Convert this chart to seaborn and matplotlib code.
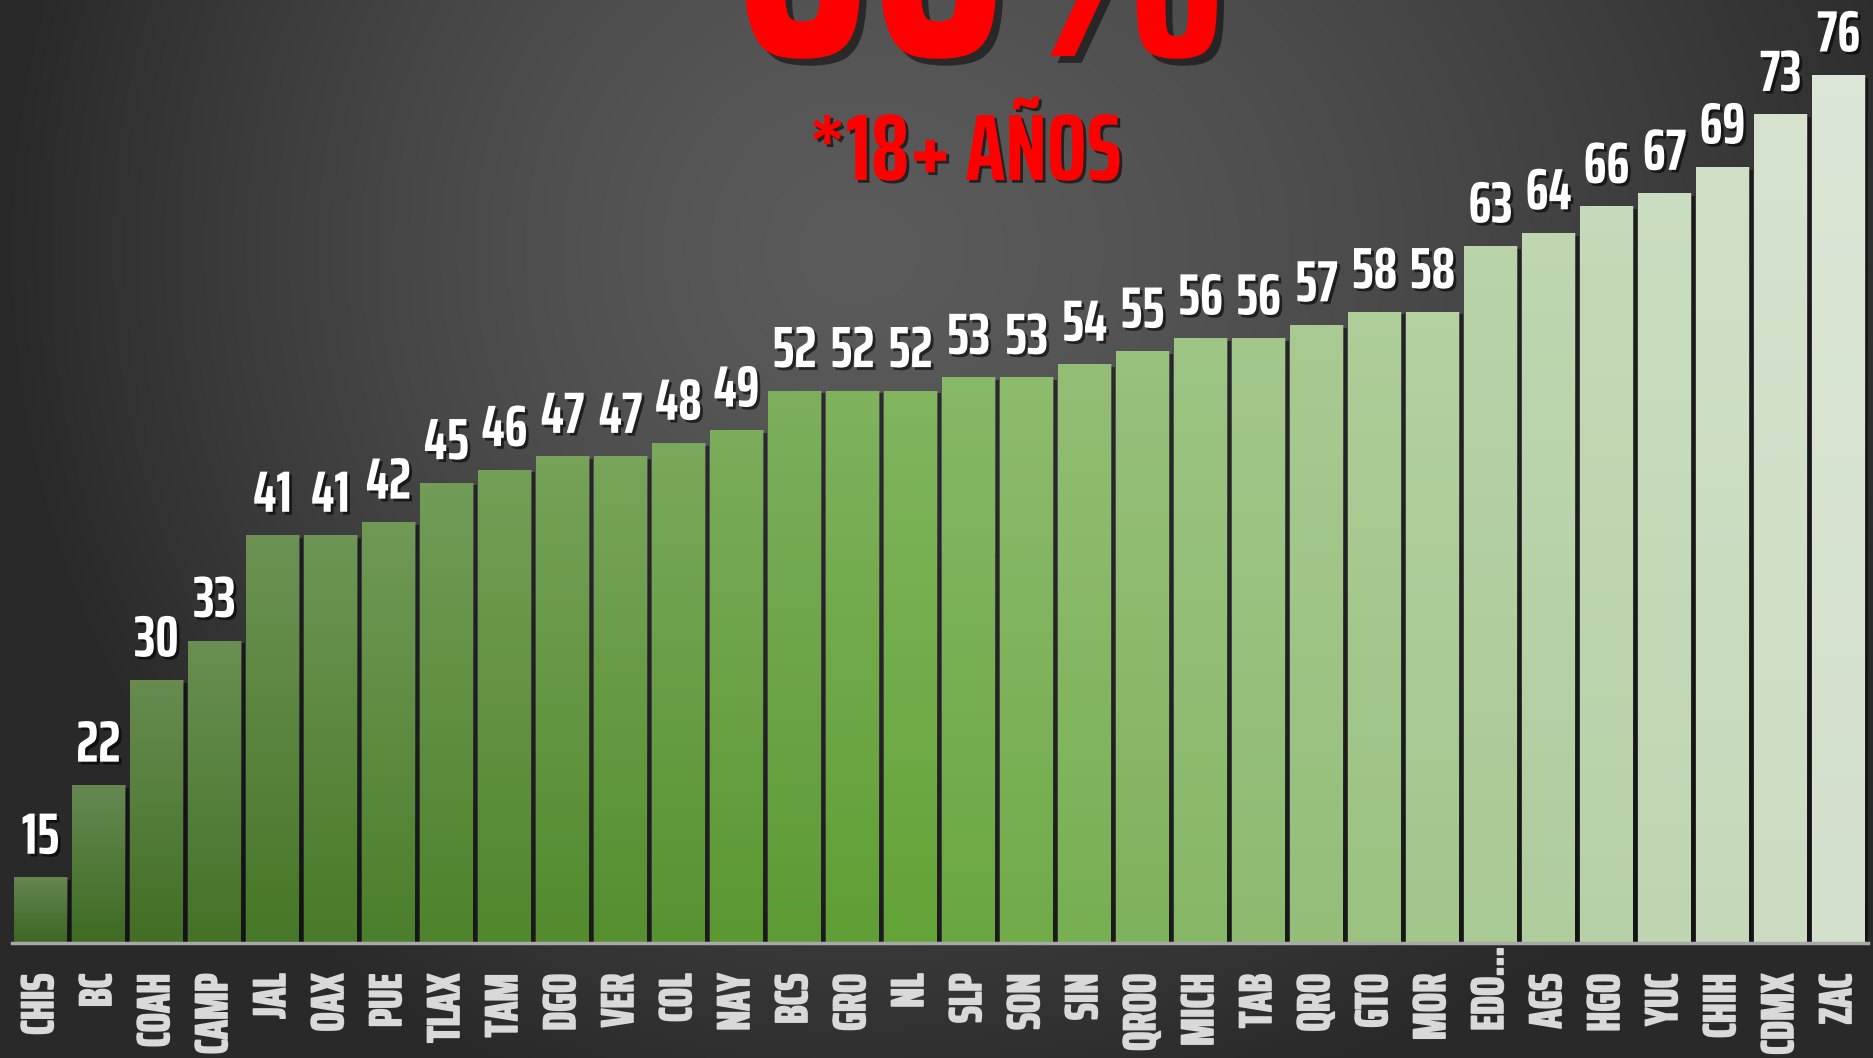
import numpy as np
import matplotlib
matplotlib.use("Agg")
import matplotlib.pyplot as plt
import matplotlib.patheffects as pe
import matplotlib.transforms as mtransforms
from matplotlib import font_manager
from matplotlib.colors import LinearSegmentedColormap
import seaborn as sns

states = ["CHIS", "BC", "COAH", "CAMP", "JAL", "OAX", "PUE", "TLAX", "TAM", "DGO",
          "VER", "COL", "NAY", "BCS", "GRO", "NL", "SLP", "SON", "SIN", "QROO",
          "MICH", "TAB", "QRO", "GTO", "MOR", "EDO…", "AGS", "HGO", "YUC", "CHIH",
          "CDMX", "ZAC"]
values = [15, 22, 30, 33, 41, 41, 42, 45, 46, 47,
          47, 48, 49, 52, 52, 52, 53, 53, 54, 55,
          56, 56, 57, 58, 58, 63, 64, 66, 67, 69,
          73, 76]
headline = "66%"
subtitle = "*18+ AÑOS"

sns.set_theme(style="white")

# condensed face similar to the poster lettering, if one is around
installed = {f.name for f in font_manager.fontManager.ttflist}
candidates = ["Saira ExtraCondensed", "Saira Extra Condensed", "Saira Condensed",
              "Oswald", "Teko", "Bebas Neue", "Antonio", "Fjalla One",
              "Liberation Sans Narrow"]
narrow = next((c for c in candidates if c in installed), "DejaVu Sans")
fams = [narrow, "DejaVu Sans"]
scale = 1.0 if narrow != "DejaVu Sans" else 0.6
plt.rcParams["font.family"] = fams

W, H = 1874, 1058
fig = plt.figure(figsize=(W / 100, H / 100), dpi=100)

# radial gray background, lit a bit left of centre
bg = fig.add_axes([0, 0, 1, 1], zorder=0)
yy, xx = np.mgrid[0:H, 0:W]
rx = np.where(xx < 850, 850.0, 1150.0)
d = np.sqrt(((xx - 850) / rx) ** 2 + ((yy - 250) / 900.0) ** 2)
shade = (0x5b - (0x5b - 0x29) * np.clip(d, 0, 1) ** 1.4) / 255.0
bg.imshow(np.dstack([shade] * 3), extent=(0, 1, 0, 1), aspect="auto")
bg.axis("off")

ax = fig.add_axes([11.5 / W, (H - 943) / H, 1856 / W, 943 / H], zorder=1)
ax.patch.set_alpha(0)

cmap = LinearSegmentedColormap.from_list(
    "greens", [(0, "#3d6723"), (0.48, "#62a336"), (1, "#d3e0cc")])
palette = [cmap(i / (len(states) - 1)) for i in range(len(states))]

sns.barplot(x=states, y=values, hue=states, palette=palette, legend=False,
            width=0.92, linewidth=0, saturation=1, ax=ax)

ymin, ymax = 10, 81.7
shadow = [pe.SimplePatchShadow(offset=(3, -2), shadow_rgbFace="black", alpha=0.5), pe.Normal()]
for bar in ax.patches:
    bar.set_path_effects(shadow)
    x0, w = bar.get_x(), bar.get_width()
    top = bar.get_y() + bar.get_height()
    grad = np.zeros((64, 1, 4))
    grad[..., :3] = 1.0
    grad[:, 0, 3] = np.linspace(0.0, 0.2, 64)
    im = ax.imshow(grad, extent=(x0, x0 + w, ymin, top), origin="lower",
                   aspect="auto", zorder=bar.get_zorder() + 0.1)
    im.set_clip_path(bar)

ax.set_xlim(-0.5, len(states) - 0.5)
ax.set_ylim(ymin, ymax)

txt_shadow = [pe.SimplePatchShadow(offset=(2, -2), shadow_rgbFace="black", alpha=0.6), pe.Normal()]
for cont in ax.containers:
    labels = ax.bar_label(cont, padding=9, fontsize=42 * scale, color="white",
                          fontweight="bold", family=fams)
    for t in labels:
        t.set_path_effects(txt_shadow)

ax.set_yticks([])
ax.set_xlabel("")
ax.set_ylabel("")
ax.tick_params(axis="x", length=0, pad=22, labelsize=33 * scale, labelcolor="#d9d9d9",
               rotation=90)
for t in ax.get_xticklabels():
    t.set_fontweight("bold")
    t.set_path_effects([pe.withStroke(linewidth=1.2, foreground="#d9d9d9")])
    if t.get_text().endswith("…"):
        # the long label sits a little higher, as on the poster
        t.set_transform(t.get_transform() +
                        mtransforms.ScaledTranslation(0, 0.27, fig.dpi_scale_trans))
for side in ["top", "left", "right"]:
    ax.spines[side].set_visible(False)
ax.spines["bottom"].set_color("#a8a8a8")
ax.spines["bottom"].set_linewidth(2.5)
ax.spines["bottom"].set_zorder(5)

title_shadow = [pe.SimplePatchShadow(offset=(5, -5), shadow_rgbFace="black", alpha=0.5), pe.Normal()]
fig.text(982 / W, 1 - 56 / H, headline, ha="center", va="baseline", fontsize=250 * scale,
         fontweight="bold", color="#ff0000", path_effects=title_shadow, zorder=10)
fig.text(965 / W, 1 - 180 / H, subtitle, ha="center", va="baseline", fontsize=68 * scale,
         fontweight="bold", color="#ff0000", path_effects=txt_shadow, zorder=10)

fig.savefig("out.png", dpi=100)
